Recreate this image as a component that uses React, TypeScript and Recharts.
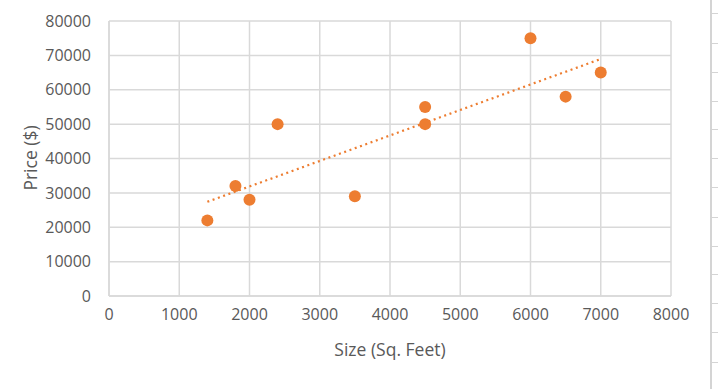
import React from 'react';
import {
  ScatterChart,
  Scatter,
  XAxis,
  YAxis,
  CartesianGrid,
  ReferenceLine
} from 'recharts';

// house sizes (sq. feet) and prices ($)
const SIZES = [1400, 1800, 2000, 2400, 3500, 4500, 4500, 6000, 6500, 7000];
const PRICES = [22000, 32000, 28000, 50000, 29000, 55000, 50000, 75000, 58000, 65000];

const X_TICKS = [0, 1000, 2000, 3000, 4000, 5000, 6000, 7000, 8000];
const Y_TICKS = [0, 10000, 20000, 30000, 40000, 50000, 60000, 70000, 80000];

const ORANGE = '#ED7D31';
const GRID = '#d9d9d9';
const TEXT = '#595959';
const FONT = '"Open Sans", sans-serif';

const points = SIZES.map((x, i) => ({ x, y: PRICES[i] }));

// linear trendline (least squares), like Excel's
const fitTrend = () => {
  const n = SIZES.length;
  const mx = SIZES.reduce((a, b) => a + b, 0) / n;
  const my = PRICES.reduce((a, b) => a + b, 0) / n;
  let sxy = 0;
  let sxx = 0;
  SIZES.forEach((x, i) => {
    sxy += (x - mx) * (PRICES[i] - my);
    sxx += (x - mx) * (x - mx);
  });
  const slope = sxy / sxx;
  const icpt = my - slope * mx;
  const x0 = Math.min(...SIZES);
  const x1 = Math.max(...SIZES);
  return [
    { x: x0, y: icpt + slope * x0 },
    { x: x1, y: icpt + slope * x1 }
  ];
};

// excel cell borders showing at the right edge of the screenshot
const CELL_ROWS = [13, 43, 72, 101, 129, 158, 187, 217, 246, 274, 303, 332, 362];

export default function App() {
  const trend = fitTrend();
  const tickStyle = { fill: TEXT, fontSize: 16, fontFamily: FONT };

  return (
    <div style={{ position: 'absolute', left: 0, top: 0, width: 718, height: 389, background: '#fff' }}>
      <ScatterChart width={718} height={389} margin={{ top: 21, right: 47, bottom: 63, left: 0 }}>
        <CartesianGrid stroke={GRID} strokeWidth={1.5} />
        <XAxis
          type="number"
          dataKey="x"
          height={30}
          domain={[0, 8000]}
          ticks={X_TICKS}
          tickLine={false}
          tickSize={0}
          tickMargin={13}
          axisLine={{ stroke: GRID, strokeWidth: 1.5 }}
          tick={tickStyle}
          label={{
            content: () => (
              <text x={390} y={349} textAnchor="middle" dominantBaseline="central"
                fill={TEXT} fontSize={17.5} fontFamily={FONT}>Size (Sq. Feet)</text>
            )
          }}
        />
        <YAxis
          type="number"
          dataKey="y"
          width={109}
          domain={[0, 80000]}
          ticks={Y_TICKS}
          tickLine={false}
          tickSize={0}
          tickMargin={18}
          axisLine={{ stroke: GRID, strokeWidth: 1.5 }}
          tick={tickStyle}
          label={{
            content: () => (
              <text x={30} y={158} transform="rotate(-90 30 158)" textAnchor="middle"
                dominantBaseline="central" fill={TEXT} fontSize={17.5} fontFamily={FONT}>Price ($)</text>
            )
          }}
        />
        <ReferenceLine
          segment={trend}
          stroke={ORANGE}
          strokeWidth={2.2}
          strokeDasharray="2 3.6"
          ifOverflow="visible"
        />
        <Scatter
          data={points}
          fill={ORANGE}
          isAnimationActive={false}
          shape={(p: any) => <circle cx={p.cx} cy={p.cy} r={6} fill={ORANGE} />}
        />
      </ScatterChart>
      <div style={{ position: 'absolute', left: 710, top: 0, width: 2, height: 389, background: '#d4d4d4' }} />
      {CELL_ROWS.map(y => (
        <div key={y} style={{ position: 'absolute', left: 712, top: y, width: 6, height: 1, background: '#d4d4d4' }} />
      ))}
    </div>
  );
}
